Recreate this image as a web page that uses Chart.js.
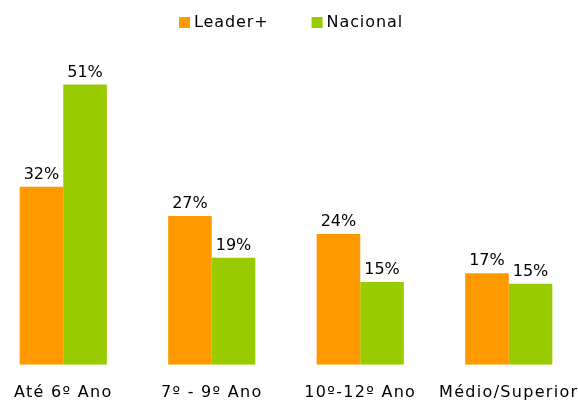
<!DOCTYPE html>
<html>
<head>
<meta charset="utf-8">
<script src="https://cdn.jsdelivr.net/npm/chart.js@4.4.1/dist/chart.umd.min.js"></script>
<style>
  html, body { margin: 0; padding: 0; background: #fff; overflow: hidden; }
  #wrap { position: relative; width: 578px; height: 401px; overflow: hidden; }
  #myChart { position: absolute; left: -11px; top: 0; }
</style>
</head>
<body>
<div id="wrap"><canvas id="myChart" width="594" height="401"></canvas></div>
<script>
var categories = ["Até 6º Ano", "7º - 9º Ano", "10º-12º Ano", "Médio/Superior"];
var leaderValues = [32.3, 27.0, 23.7, 16.6];
var nacionalValues = [50.8, 19.4, 15.0, 14.7];
var seriesNames = ["Leader+", "Nacional"];

var orange = "#FF9900";
var green = "#99CC00";
var fontName = "'DejaVu Sans', Verdana, sans-serif";
var tickSpacing = "1.3px";
var legendSpacing = "0.9px";

// the original font is a bit wider than DejaVu, so add some letter spacing
var spacing = {
  id: "spacing",
  afterInit: function (chart) {
    var lg = chart.legend;
    ["fit", "draw"].forEach(function (fn) {
      var orig = lg[fn];
      lg[fn] = function () {
        var old = chart.ctx.letterSpacing;
        chart.ctx.letterSpacing = legendSpacing;
        var r = orig.apply(this, arguments);
        chart.ctx.letterSpacing = old;
        return r;
      };
    });
  },
  beforeLayout: function (chart) { chart.ctx.letterSpacing = tickSpacing; },
  afterLayout: function (chart) {
    // legend sits a little right of centre in the original
    chart.legend.left += 7;
    chart.legend.right += 7;
  },
  beforeDraw: function (chart) { chart.ctx.letterSpacing = tickSpacing; }
};

// labels above each bar
var barLabels = {
  id: "barLabels",
  afterDatasetsDraw: function (chart) {
    var ctx = chart.ctx;
    ctx.save();
    ctx.letterSpacing = "0px";
    ctx.font = "16px " + fontName;
    ctx.fillStyle = "#000";
    ctx.textAlign = "center";
    ctx.textBaseline = "alphabetic";
    chart.data.datasets.forEach(function (ds, i) {
      chart.getDatasetMeta(i).data.forEach(function (bar, j) {
        ctx.fillText(Math.round(ds.data[j]) + "%", bar.x, bar.y - 8);
      });
    });
    ctx.restore();
  }
};

var chart = new Chart(document.getElementById("myChart"), {
  type: "bar",
  data: {
    labels: categories,
    datasets: [
      { label: seriesNames[0], data: leaderValues, backgroundColor: orange },
      { label: seriesNames[1], data: nacionalValues, backgroundColor: green }
    ]
  },
  options: {
    responsive: false,
    animation: false,
    events: [],
    layout: { padding: { top: -32.5, left: 0, right: 0, bottom: -1 } },
    datasets: { bar: { categoryPercentage: 0.587, barPercentage: 1.0 } },
    scales: {
      x: {
        grid: { display: false, drawTicks: true, tickLength: 18 },
        border: { display: false },
        ticks: {
          color: "#000",
          font: { family: fontName, size: 16 },
          padding: 0,
          autoSkip: false,
          maxRotation: 0
        }
      },
      y: {
        display: false,
        min: 0,
        max: 58.8
      }
    },
    plugins: {
      legend: {
        position: "top",
        labels: {
          color: "#000",
          font: { family: fontName, size: 16 },
          usePointStyle: true,
          pointStyle: "rect",
          boxHeight: 11,
          boxWidth: 3,
          padding: 47
        }
      },
      tooltip: { enabled: false }
    }
  },
  plugins: [spacing, barLabels]
});
</script>
</body>
</html>
